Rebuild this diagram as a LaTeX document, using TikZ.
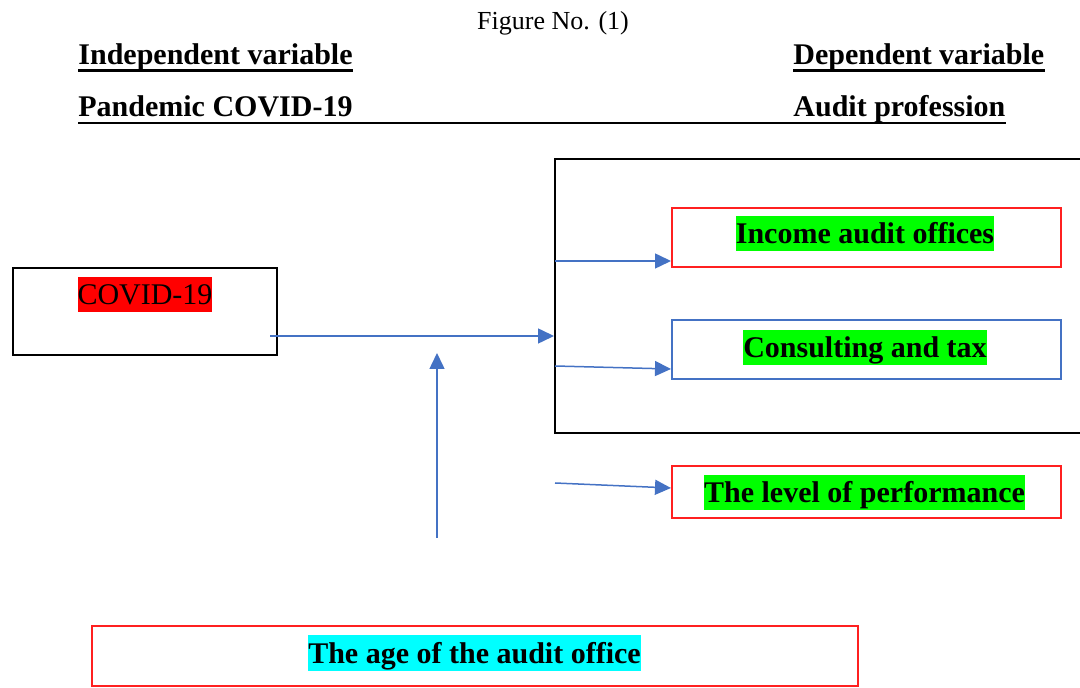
\documentclass[tikz,border=0pt]{standalone}
\usepackage{fontspec}
\setmainfont{Liberation Serif}
\usetikzlibrary{arrows.meta}

\definecolor{lineblue}{HTML}{4472C4}
\definecolor{boxred}{HTML}{FF2020}
\definecolor{hlred}{HTML}{FF0000}
\definecolor{hlgreen}{HTML}{00FF00}
\definecolor{hlcyan}{HTML}{00FFFF}

\newcommand{\figfont}{\fontsize{15}{18}\selectfont}
\tikzstyle{box}=[draw, line width=1pt, inner sep=0pt]
\tikzstyle{hilite}=[anchor=base, inner sep=0pt, text height=14pt, text depth=3.75pt, font=\figfont\bfseries]
\tikzstyle{head}=[anchor=base west, inner sep=0pt, font=\figfont\bfseries]
\tikzstyle{link}=[draw=lineblue, line width=0.75pt, -{Triangle[length=8pt,width=7.5pt]}]

\begin{document}
\begin{tikzpicture}[x=0.5pt, y=-0.5pt]
\useasboundingbox (0,0) rectangle (1080,688);
% Headings
\draw (553,30) node[anchor=base, inner sep=0pt, font=\fontsize{13}{16}\selectfont](fig){Figure No. (1)};
\draw (78,65) node[head](indep){Independent variable};
\draw (793,65) node[head](dep){Dependent variable};
\draw (78,117) node[head](pand){Pandemic COVID-19};
\draw (793,117) node[head](aud){Audit profession};
\draw[line width=1.4pt] ([yshift=-2.6pt]indep.base west) -- ([yshift=-2.6pt]indep.base east);
\draw[line width=1.4pt] ([yshift=-2.6pt]dep.base west) -- ([yshift=-2.6pt]dep.base east);
\draw[line width=1.4pt] ([yshift=-3pt]pand.base west) -- ([yshift=-3pt]pand.base west -| aud.base east);
%
% Boxes
\draw (145,311.5) node[box, minimum width=132pt, minimum height=43.5pt](covid){};
\draw (822.5,296) node[box, minimum width=267.5pt, minimum height=137pt](prof){};
\draw (866.5,237.5) node[box, draw=boxred, minimum width=194.5pt, minimum height=29.5pt](inc){};
\draw (866.5,349.5) node[box, draw=lineblue, minimum width=194.5pt, minimum height=29.5pt](cons){};
\draw (866.5,492) node[box, draw=boxred, minimum width=194.5pt, minimum height=26pt](perf){};
\draw (475,656) node[box, draw=boxred, minimum width=383pt, minimum height=30pt](age){};
%
% Highlighted labels
\draw (145,305) node[hilite, fill=hlred, font=\figfont](covidtxt){COVID-19};
\draw (865,244) node[hilite, fill=hlgreen](inctxt){Income audit offices};
\draw (865,358) node[hilite, fill=hlgreen](constxt){Consulting and tax};
\draw (864.5,503) node[hilite, fill=hlgreen](perftxt){The level of performance};
\draw (474.5,663) node[hilite, fill=hlcyan](agetxt){The age of the audit office};
%
% Arrows
\coordinate (c0) at (270,336);
\coordinate (a1) at (555,261);
\coordinate (a2) at (555,366);
\coordinate (a3) at (555,483);
\coordinate (m0) at (437,538);
\coordinate (m1) at (437,353);
\draw[link] (c0) -- (prof.west |- c0);
\draw[link] (a1) -- (inc.west |- a1);
\draw[link] (a2) -- ([yshift=-1.5pt]cons.west |- a2);
\draw[link] (a3) -- ([yshift=-2.5pt]perf.west |- a3);
\draw[link] (m0) -- (m1);
\end{tikzpicture}
\end{document}
